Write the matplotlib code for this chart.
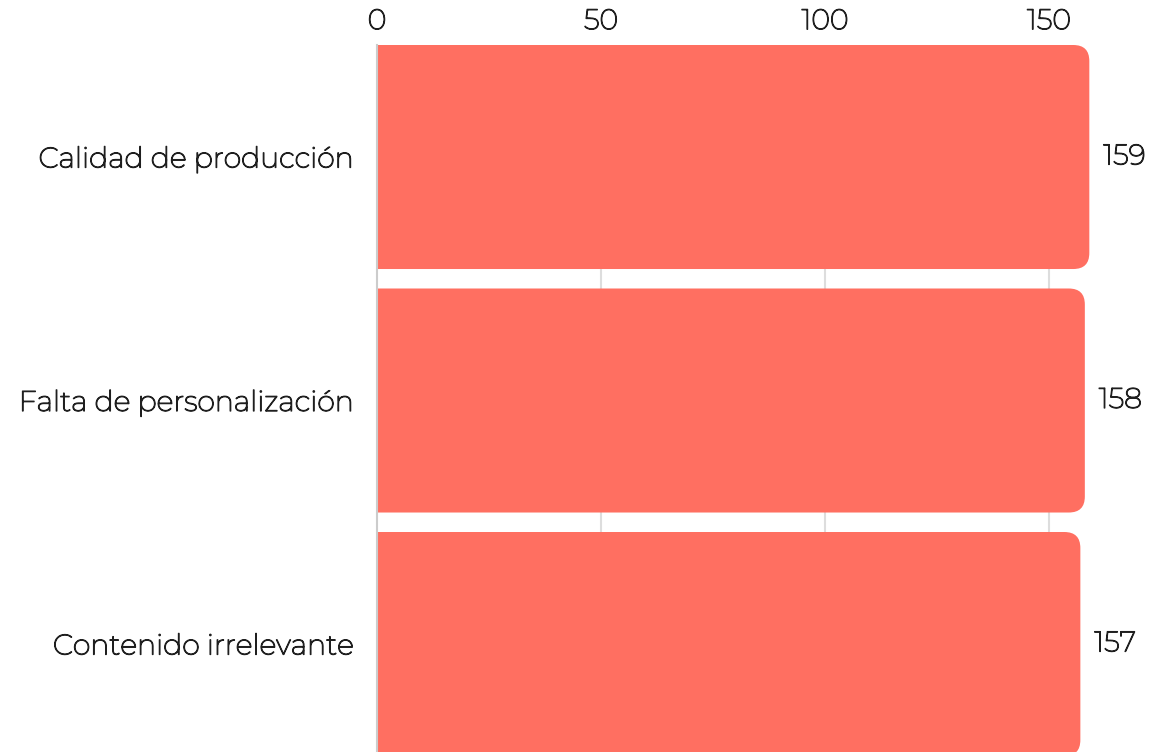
import matplotlib
matplotlib.use("Agg")
import matplotlib.pyplot as plt
import matplotlib.patheffects as pe
from matplotlib.path import Path
from matplotlib.patches import PathPatch
from matplotlib.transforms import offset_copy

categories = ["Calidad de producción", "Falta de personalización", "Contenido irrelevante"]
values = [159, 158, 157]
ticks = [0, 50, 100, 150]

BAR_COLOR = "#FF6F61"
TEXT_COLOR = "#1f1f1f"
FONT = ["Montserrat", "Noto Sans", "DejaVu Sans"]
plt.rcParams["font.family"] = FONT
FS = 20.5
# thicken the strokes of the light face a little
BOLDEN = [pe.withStroke(linewidth=0.9, foreground=TEXT_COLOR)]

W, H, DPI = 1149, 752, 100
fig = plt.figure(figsize=(W / DPI, H / DPI), dpi=DPI)

left_px, top_px = 377, 45
px_per_unit = 4.48
xmax = 170
ax_w = xmax * px_per_unit
ax = fig.add_axes([left_px / W, 0, ax_w / W, (H - top_px) / H])

bar_h = 0.92
step_px = 243.5
ytop = -bar_h / 2
ybot = ytop + (H - top_px) / step_px
ax.set_xlim(0, xmax)
ax.set_ylim(ybot, ytop)


def rounded_bar(x1, yc, h, rx, ry):
    """Bar from 0 to x1 with rounded right-hand corners."""
    y0, y1 = yc - h / 2, yc + h / 2
    verts = [
        (0, y0), (x1 - rx, y0),
        (x1, y0), (x1, y0 + ry),
        (x1, y1 - ry),
        (x1, y1), (x1 - rx, y1),
        (0, y1), (0, y0),
    ]
    codes = [
        Path.MOVETO, Path.LINETO,
        Path.CURVE3, Path.CURVE3,
        Path.LINETO,
        Path.CURVE3, Path.CURVE3,
        Path.LINETO, Path.CLOSEPOLY,
    ]
    return Path(verts, codes)


radius_px = 16
rx = radius_px / px_per_unit
ry = radius_px / step_px

for i, (cat, v) in enumerate(zip(categories, values)):
    patch = PathPatch(rounded_bar(v, i, bar_h, rx, ry), facecolor=BAR_COLOR,
                      edgecolor="none", zorder=2)
    ax.add_patch(patch)
    ax.text(v, i, str(v), transform=offset_copy(ax.transData, fig=fig, x=14, y=0, units="dots"),
            ha="left", va="center", fontsize=FS, color=TEXT_COLOR, clip_on=False,
            path_effects=BOLDEN)

ax.set_yticks(range(len(categories)))
ax.set_yticklabels(categories, fontsize=FS, color=TEXT_COLOR)
ax.tick_params(axis="y", length=0, pad=16.5)

ax.xaxis.tick_top()
ax.set_xticks(ticks)
ax.set_xticklabels([str(t) for t in ticks], fontsize=FS, color=TEXT_COLOR)
ax.tick_params(axis="x", length=0, pad=7)

for lbl in ax.get_xticklabels() + ax.get_yticklabels():
    lbl.set_path_effects(BOLDEN)

for t in ticks[1:]:
    ax.axvline(t, color="#dddddd", lw=1.5, zorder=1)

for s in ["top", "right", "bottom"]:
    ax.spines[s].set_visible(False)
ax.spines["left"].set_color("#cccccc")
ax.spines["left"].set_linewidth(1.5)
ax.spines["left"].set_zorder(3)

fig.savefig("out.png", dpi=DPI)
